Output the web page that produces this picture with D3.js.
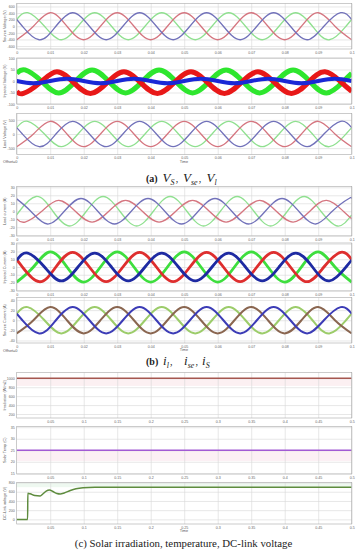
<!DOCTYPE html>
<html>
<head>
<meta charset="utf-8">
<script src="https://cdn.jsdelivr.net/npm/d3@7"></script>
<style>
  body { margin: 0; background: #fff; }
  svg { display: block; }
  .ax line { stroke: #d6d6d6; stroke-width: 0.6; }
  .ax text { font-family: "Liberation Sans", Arial, sans-serif; font-size: 3.6px; fill: #666; }
  .ylab, .small { font-family: "Liberation Sans", Arial, sans-serif; font-size: 3.8px; fill: #555; }
  .cap { font-family: "Liberation Serif", "DejaVu Serif", serif; fill: #222; }
</style>
</head>
<body>
<svg id="fig" width="360" height="550"></svg>
<script>
// ---- axis ticks ----
const tTicksTop = [0, 0.01, 0.02, 0.03, 0.04, 0.05, 0.06, 0.07, 0.08, 0.09, 0.1];
const tTicksBottom = [0.05, 0.1, 0.15, 0.2, 0.25, 0.3, 0.35, 0.4, 0.45, 0.5];

// ---- (a) voltages : [time s, value V] at peaks / zero crossings ----
const vsR = [[0,-410],[0.005,0],[0.01,410],[0.015,0],[0.02,-410],[0.025,0],[0.03,410],[0.035,0],[0.04,-410],[0.045,0],[0.05,410],[0.055,0],[0.06,-410],[0.065,0],[0.07,410],[0.075,0],[0.08,-410],[0.085,0],[0.09,410],[0.095,0],[0.1,-410]];
const vsG = [[0,205],[0.0033,410],[0.0083,0],[0.0133,-410],[0.0183,0],[0.0233,410],[0.0283,0],[0.0333,-410],[0.0383,0],[0.0433,410],[0.0483,0],[0.0533,-410],[0.0583,0],[0.0633,410],[0.0683,0],[0.0733,-410],[0.0783,0],[0.0833,410],[0.0883,0],[0.0933,-410],[0.0983,0],[0.1,205]];
const vsB = [[0,205],[0.0017,0],[0.0067,-410],[0.0117,0],[0.0167,410],[0.0217,0],[0.0267,-410],[0.0317,0],[0.0367,410],[0.0417,0],[0.0467,-410],[0.0517,0],[0.0567,410],[0.0617,0],[0.0667,-410],[0.0717,0],[0.0767,410],[0.0817,0],[0.0867,-410],[0.0917,0],[0.0967,410],[0.1,205]];

const vseG = [[0,33],[0.0025,48],[0.0075,-2],[0.0125,-52],[0.0175,-2],[0.0225,48],[0.0275,-2],[0.0325,-52],[0.0375,-2],[0.0425,48],[0.0475,-2],[0.0525,-52],[0.0575,-2],[0.0625,48],[0.0675,-2],[0.0725,-52],[0.0775,-2],[0.0825,48],[0.0875,-2],[0.0925,-52],[0.0975,-2],[0.1,33]];
const vseR = [[0,-45],[0.002,-54],[0.007,-7],[0.012,40],[0.017,-7],[0.022,-54],[0.027,-7],[0.032,40],[0.037,-7],[0.042,-54],[0.047,-7],[0.052,40],[0.057,-7],[0.062,-54],[0.067,-7],[0.072,40],[0.077,-7],[0.082,-54],[0.087,-7],[0.092,40],[0.097,-7],[0.1,-45]];
const vseB = [[0,0],[0.005,-10],[0.01,0],[0.015,10],[0.02,0],[0.025,-10],[0.03,0],[0.035,10],[0.04,0],[0.045,-10],[0.05,0],[0.055,10],[0.06,0],[0.065,-10],[0.07,0],[0.075,10],[0.08,0],[0.085,-10],[0.09,0],[0.095,10],[0.1,0]];

const vlR = [[0,-450],[0.005,0],[0.01,450],[0.015,0],[0.02,-450],[0.025,0],[0.03,450],[0.035,0],[0.04,-450],[0.045,0],[0.05,450],[0.055,0],[0.06,-450],[0.065,0],[0.07,450],[0.075,0],[0.08,-450],[0.085,0],[0.09,450],[0.095,0],[0.1,-450]];
const vlG = [[0,225],[0.0033,450],[0.0083,0],[0.0133,-450],[0.0183,0],[0.0233,450],[0.0283,0],[0.0333,-450],[0.0383,0],[0.0433,450],[0.0483,0],[0.0533,-450],[0.0583,0],[0.0633,450],[0.0683,0],[0.0733,-450],[0.0783,0],[0.0833,450],[0.0883,0],[0.0933,-450],[0.0983,0],[0.1,225]];
const vlB = [[0,225],[0.0017,0],[0.0067,-450],[0.0117,0],[0.0167,450],[0.0217,0],[0.0267,-450],[0.0317,0],[0.0367,450],[0.0417,0],[0.0467,-450],[0.0517,0],[0.0567,450],[0.0617,0],[0.0667,-450],[0.0717,0],[0.0767,450],[0.0817,0],[0.0867,-450],[0.0917,0],[0.0967,450],[0.1,225]];

// ---- (b) currents ----
const ilR = [[0,-9.5],[0.0025,-13.5],[0.0075,0],[0.0125,13.5],[0.0175,0],[0.0225,-13.5],[0.0275,0],[0.0325,13.5],[0.0375,0],[0.0425,-13.5],[0.0475,0],[0.0525,13.5],[0.0575,0],[0.0625,-13.5],[0.0675,0],[0.0725,13.5],[0.0775,0],[0.0825,-13.5],[0.0875,0],[0.0925,13.5],[0.0975,0],[0.1,-9.5]];
const ilG = [[0,-4.6],[0.0008,0],[0.0058,18.5],[0.0108,0],[0.0158,-18.5],[0.0208,0],[0.0258,18.5],[0.0308,0],[0.0358,-18.5],[0.0408,0],[0.0458,18.5],[0.0508,0],[0.0558,-18.5],[0.0608,0],[0.0658,18.5],[0.0708,0],[0.0758,-18.5],[0.0808,0],[0.0858,18.5],[0.0908,0],[0.0958,-18.5],[0.1,-4.6]];
const ilB = [[0,15.5],[0.0042,0],[0.0092,-16],[0.0142,0],[0.0192,16],[0.0242,0],[0.0292,-16],[0.0342,0],[0.0392,16],[0.0442,0],[0.0492,-16],[0.0542,0],[0.0592,16],[0.0642,0],[0.0692,-16],[0.0742,0],[0.0792,16],[0.0842,0],[0.0892,-16],[0.0942,0],[0.0992,16],[0.1,15.5]];

const iseB = [[0,9],[0.0033,18],[0.0083,0],[0.0133,-18],[0.0183,0],[0.0233,18],[0.0283,0],[0.0333,-18],[0.0383,0],[0.0433,18],[0.0483,0],[0.0533,-18],[0.0583,0],[0.0633,18],[0.0683,0],[0.0733,-18],[0.0783,0],[0.0833,18],[0.0883,0],[0.0933,-18],[0.0983,0],[0.1,9]];
const iseG = [[0,-19.5],[0.005,0],[0.01,19.5],[0.015,0],[0.02,-19.5],[0.025,0],[0.03,19.5],[0.035,0],[0.04,-19.5],[0.045,0],[0.05,19.5],[0.055,0],[0.06,-19.5],[0.065,0],[0.07,19.5],[0.075,0],[0.08,-19.5],[0.085,0],[0.09,19.5],[0.095,0],[0.1,-19.5]];
const iseR = [[0,9.5],[0.0017,0],[0.0067,-19],[0.0117,0],[0.0167,19],[0.0217,0],[0.0267,-19],[0.0317,0],[0.0367,19],[0.0417,0],[0.0467,-19],[0.0517,0],[0.0567,19],[0.0617,0],[0.0667,-19],[0.0717,0],[0.0767,19],[0.0817,0],[0.0867,-19],[0.0917,0],[0.0967,19],[0.1,9.5]];

const isBr = [[0,-26],[0.005,0],[0.01,26],[0.015,0],[0.02,-26],[0.025,0],[0.03,26],[0.035,0],[0.04,-26],[0.045,0],[0.05,26],[0.055,0],[0.06,-26],[0.065,0],[0.07,26],[0.075,0],[0.08,-26],[0.085,0],[0.09,26],[0.095,0],[0.1,-26]];
const isG = [[0,13],[0.0033,26],[0.0083,0],[0.0133,-26],[0.0183,0],[0.0233,26],[0.0283,0],[0.0333,-26],[0.0383,0],[0.0433,26],[0.0483,0],[0.0533,-26],[0.0583,0],[0.0633,26],[0.0683,0],[0.0733,-26],[0.0783,0],[0.0833,26],[0.0883,0],[0.0933,-26],[0.0983,0],[0.1,13]];
const isB = [[0,13],[0.0017,0],[0.0067,-26],[0.0117,0],[0.0167,26],[0.0217,0],[0.0267,-26],[0.0317,0],[0.0367,26],[0.0417,0],[0.0467,-26],[0.0517,0],[0.0567,26],[0.0617,0],[0.0667,-26],[0.0717,0],[0.0767,26],[0.0817,0],[0.0867,-26],[0.0917,0],[0.0967,26],[0.1,13]];

// ---- (c) PV side ----
const irradiation = [[0,1000],[0.5,1000]];
const solarTemp = [[0,25],[0.5,25]];
const dcLink = [[0,0],[0.0163,0],[0.0166,565],[0.02,555],[0.027,517],[0.035,507],[0.039,550],[0.044,615],[0.049,637],[0.054,604],[0.06,561],[0.065,550],[0.071,572],[0.08,626],[0.0885,663],[0.099,685],[0.117,696],[0.154,698],[0.3,698],[0.5,698]];

const capA = [["V","S"],["V","se"],["V","l"]];
const capB = [["i","l"],["i","se"],["i","S"]];
const capC = "(c) Solar irradiation, temperature, DC-link voltage";

// ---- drawing ----
const svg = d3.select("#fig");
const X0 = 16.7, X1 = 351.7;
let clipId = 0;

function panel(p) {
  const x = d3.scaleLinear().domain(p.xDomain).range([X0, X1]);
  const y = d3.scaleLinear().domain(p.yDomain).range([p.bottom, p.top]);
  const g = svg.append("g");
  const id = "clip" + (clipId++);
  g.append("clipPath").attr("id", id).append("rect")
    .attr("x", X0).attr("y", p.top).attr("width", X1 - X0).attr("height", p.bottom - p.top);

  if (p.band) {
    g.append("rect").attr("x", X0).attr("width", X1 - X0)
      .attr("y", y(p.band[1])).attr("height", y(p.band[0]) - y(p.band[1]))
      .attr("fill", p.bandColor);
  }

  g.append("g").attr("class", "ax").attr("transform", `translate(0,${p.bottom})`)
    .call(d3.axisBottom(x).tickValues(p.xTicks).tickSize(-(p.bottom - p.top)).tickPadding(2.2).tickFormat(d => String(d)));
  g.append("g").attr("class", "ax").attr("transform", `translate(${X0},0)`)
    .call(d3.axisLeft(y).tickValues(p.yTicks).tickSize(-(X1 - X0)).tickPadding(2).tickFormat(d => String(d)));
  g.selectAll(".ax .domain").remove();

  const line = d3.line().x(d => x(d[0])).y(d => y(d[1])).curve(p.curve || d3.curveNatural);
  const lg = g.append("g").attr("clip-path", `url(#${id})`);
  p.series.forEach(s => {
    lg.append("path").attr("d", line(s.data)).attr("fill", "none")
      .attr("stroke", s.color).attr("stroke-width", s.w).attr("stroke-linejoin", "round");
  });

  g.append("rect").attr("x", X0).attr("y", p.top).attr("width", X1 - X0).attr("height", p.bottom - p.top)
    .attr("fill", "none").attr("stroke", "#a8a8a8").attr("stroke-width", 0.6);

  g.append("text").attr("class", "ylab").attr("text-anchor", "middle")
    .attr("transform", `translate(6.2,${(p.top + p.bottom) / 2}) rotate(-90)`).text(p.ylabel);

  if (p.time) {
    g.append("text").attr("class", "small").attr("x", 184).attr("y", p.bottom + 8.2).attr("text-anchor", "middle").text("Time");
  }
  if (p.offset) {
    g.append("text").attr("class", "small").attr("x", 3).attr("y", p.bottom + 8.6).text("Offset=0");
  }
}

const softR = "#d57680", softG = "#90e090", softB = "#7272ba";

panel({top: 3.5, bottom: 49, xDomain: [0, 0.1], xTicks: tTicksTop, yDomain: [-690, 690],
  yTicks: [-600, -400, -200, 0, 200, 400, 600], ylabel: "Source Voltage (V)",
  series: [{data: vsG, color: softG, w: 1.3}, {data: vsR, color: softR, w: 1.3}, {data: vsB, color: softB, w: 1.3}]});

panel({top: 58, bottom: 104, xDomain: [0, 0.1], xTicks: tTicksTop, yDomain: [-100, 100],
  yTicks: [-100, -50, 0, 50, 100], ylabel: "Injected Voltage (V)",
  series: [{data: vseG, color: "#2ee62e", w: 5}, {data: vseR, color: "#e81818", w: 5}, {data: vseB, color: "#1a28d6", w: 4}]});

panel({top: 113.5, bottom: 154.5, xDomain: [0, 0.1], xTicks: tTicksTop, yDomain: [-725, 725],
  yTicks: [-500, 0, 500], ylabel: "Load Voltage (V)", time: true, offset: true,
  series: [{data: vlG, color: softG, w: 1.3}, {data: vlR, color: softR, w: 1.3}, {data: vlB, color: softB, w: 1.3}]});

panel({top: 186.5, bottom: 236, xDomain: [0, 0.1], xTicks: tTicksTop, yDomain: [-31, 31],
  yTicks: [-30, -20, -10, 0, 10, 20, 30], ylabel: "Load current (A)",
  series: [{data: ilG, color: softG, w: 1.3}, {data: ilR, color: softR, w: 1.3}, {data: ilB, color: softB, w: 1.3}]});

panel({top: 243, bottom: 291, xDomain: [0, 0.1], xTicks: tTicksTop, yDomain: [-31, 31],
  yTicks: [-30, -20, -10, 0, 10, 20, 30], ylabel: "Injected Current (A)",
  series: [{data: iseG, color: "#3ede3e", w: 2.8}, {data: iseR, color: "#de2e2e", w: 2.8}, {data: iseB, color: "#1e2aa2", w: 2.8}]});

panel({top: 297.5, bottom: 343, xDomain: [0, 0.1], xTicks: tTicksTop, yDomain: [-45, 45],
  yTicks: [-40, -20, 0, 20, 40], ylabel: "Source Current (A)", time: true, offset: true,
  series: [{data: isG, color: "#9ccc6a", w: 2}, {data: isBr, color: "#8a6650", w: 2}, {data: isB, color: "#3c3cb6", w: 2}]});

panel({top: 372.5, bottom: 418, xDomain: [0, 0.5], xTicks: tTicksBottom, yDomain: [110, 1130],
  yTicks: [200, 400, 600, 800, 1000], ylabel: "Irradiation (W/m2)", curve: d3.curveLinear,
  band: [830, 1000], bandColor: "#fcf0f2",
  series: [{data: irradiation, color: "#a5574f", w: 1.5}]});

panel({top: 426.5, bottom: 474, xDomain: [0, 0.5], xTicks: tTicksBottom, yDomain: [14.7, 35.3],
  yTicks: [15, 20, 25, 30, 35], ylabel: "Solar Temp (C)", curve: d3.curveLinear,
  band: [20.3, 25], bandColor: "#fcf0f4",
  series: [{data: solarTemp, color: "#a25ad4", w: 1.3}]});

panel({top: 482.5, bottom: 524, xDomain: [0, 0.5], xTicks: tTicksBottom, yDomain: [-100, 800],
  yTicks: [0, 200, 400, 600, 800], ylabel: "DC-Link voltage (V)", curve: d3.curveMonotoneX, time: true,
  band: [698, 790], bandColor: "#eef8f0",
  series: [{data: dcLink, color: "#5e8c3e", w: 1.5}]});

// ---- captions ----
function caption(label, parts, xs, yBase) {
  const t = svg.append("text").attr("class", "cap").attr("x", 146).attr("y", yBase).attr("font-size", 10);
  t.append("tspan").attr("font-weight", "bold").text(label);
  parts.forEach((pt, i) => {
    t.append("tspan").attr("x", xs[i]).attr("y", yBase).attr("font-style", "italic").attr("font-size", 13).text(pt[0]);
    t.append("tspan").attr("font-style", "italic").attr("font-size", 8).attr("dy", 2.6).text(pt[1]);
    if (i < parts.length - 1) t.append("tspan").attr("dx", 1.2).attr("dy", -2.6).attr("font-size", 10).text(",");
  });
}
caption("(a)", capA, [162.5, 183, 206.5], 182);
caption("(b)", capB, [163, 184, 202], 365);

svg.append("text").attr("class", "cap").attr("x", 183.5).attr("y", 546.5).attr("text-anchor", "middle")
  .attr("font-size", 10.8).text(capC);
</script>
</body>
</html>
